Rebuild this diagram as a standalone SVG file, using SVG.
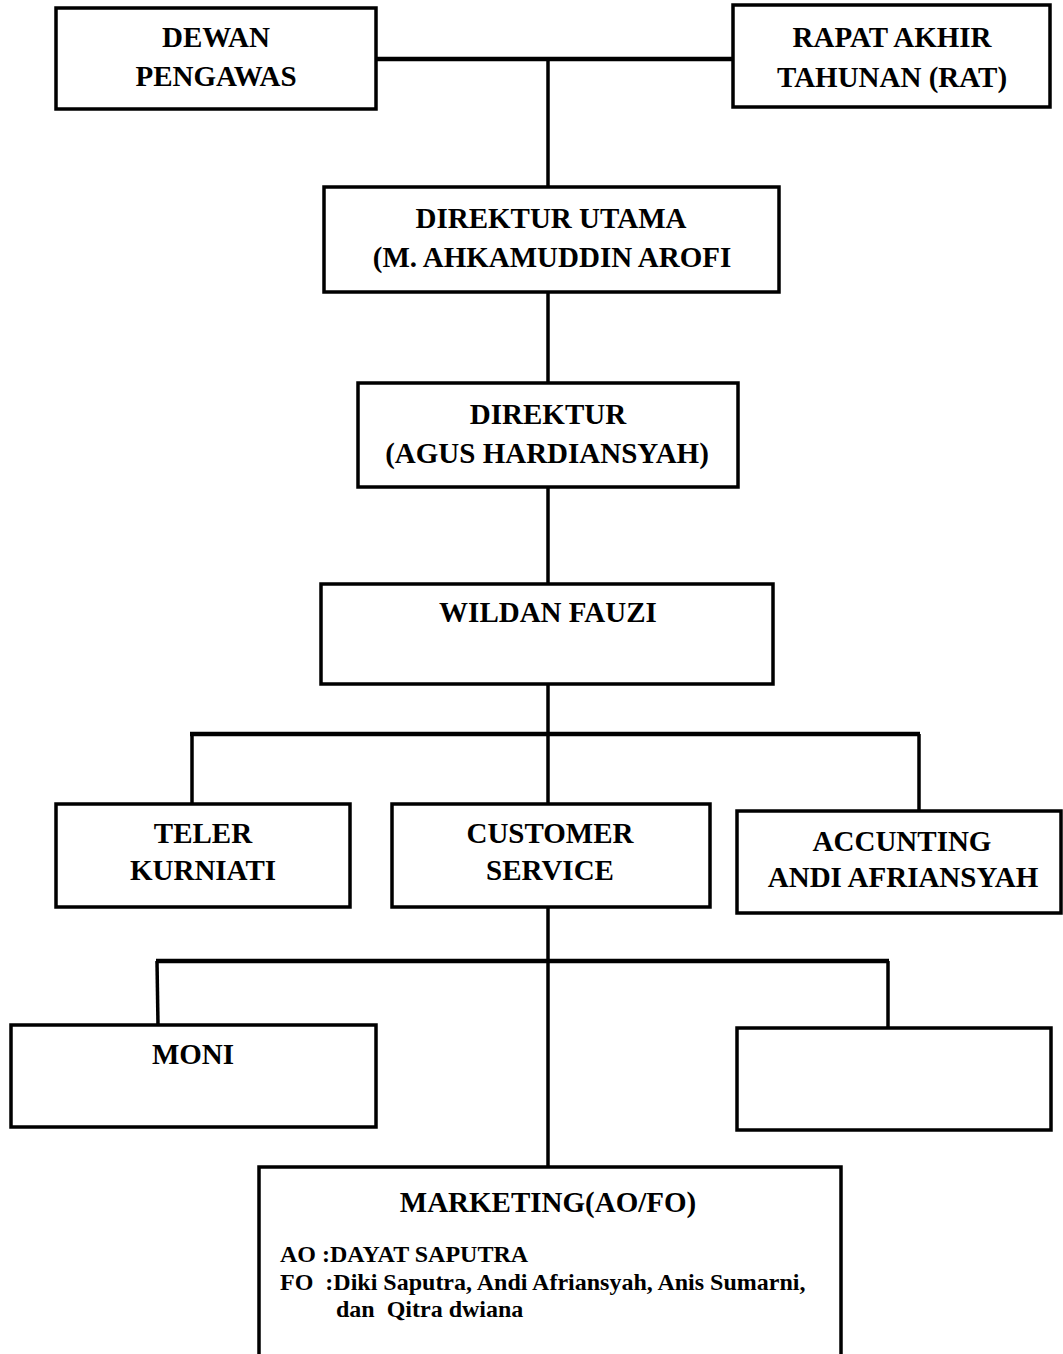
<svg xmlns="http://www.w3.org/2000/svg" width="1063" height="1354" viewBox="0 0 1063 1354">
<style>
.box{fill:#fff;stroke:#000;stroke-width:3.5}
.t{font-family:"Liberation Serif","Times New Roman",serif;font-weight:bold;font-size:29px;fill:#000;text-anchor:middle}
.s{font-family:"Liberation Serif","Times New Roman",serif;font-weight:bold;font-size:24px;fill:#000}
.c{stroke:#000;stroke-width:3.5;fill:none}
.c4{stroke:#000;stroke-width:4.5;fill:none}
</style>
<rect width="1063" height="1354" fill="#fff"/>
<g id="connectors">
<line class="c4" x1="376" y1="59" x2="733" y2="59"/>
<line class="c" x1="548" y1="59" x2="548" y2="187"/>
<line class="c" x1="548" y1="292" x2="548" y2="383"/>
<line class="c" x1="548" y1="487" x2="548" y2="584"/>
<line class="c" x1="548" y1="684" x2="548" y2="804"/>
<line class="c4" x1="190" y1="734" x2="920" y2="734"/>
<line class="c" x1="192" y1="734" x2="192" y2="804"/>
<line class="c" x1="919" y1="734" x2="919" y2="811"/>
<line class="c" x1="548" y1="907" x2="548" y2="1167"/>
<line class="c4" x1="156" y1="961" x2="889" y2="961"/>
<line class="c" x1="157" y1="961" x2="158" y2="1025"/>
<line class="c" x1="888" y1="961" x2="888" y2="1028"/>
</g>
<g id="dewan-pengawas">
<rect class="box" x="56" y="8" width="320" height="101"/>
<text class="t" x="216" y="47">DEWAN</text>
<text class="t" x="216" y="86">PENGAWAS</text>
</g>
<g id="rat">
<rect class="box" x="733" y="5" width="317" height="102"/>
<text class="t" x="892" y="47">RAPAT AKHIR</text>
<text class="t" x="892" y="87">TAHUNAN (RAT)</text>
</g>
<g id="direktur-utama">
<rect class="box" x="324" y="187" width="455" height="105"/>
<text class="t" x="551" y="228">DIREKTUR UTAMA</text>
<text class="t" x="552" y="267">(M. AHKAMUDDIN AROFI</text>
</g>
<g id="direktur">
<rect class="box" x="358" y="383" width="380" height="104"/>
<text class="t" x="548" y="424">DIREKTUR</text>
<text class="t" x="547" y="463">(AGUS HARDIANSYAH)</text>
</g>
<g id="wildan">
<rect class="box" x="321" y="584" width="452" height="100"/>
<text class="t" x="548" y="622">WILDAN FAUZI</text>
</g>
<g id="teler">
<rect class="box" x="56" y="804" width="294" height="103"/>
<text class="t" x="203" y="843">TELER</text>
<text class="t" x="203" y="880">KURNIATI</text>
</g>
<g id="customer-service">
<rect class="box" x="392" y="804" width="318" height="103"/>
<text class="t" x="550" y="843">CUSTOMER</text>
<text class="t" x="550" y="880">SERVICE</text>
</g>
<g id="accunting">
<rect class="box" x="737" y="811" width="324" height="102"/>
<text class="t" x="902" y="851">ACCUNTING</text>
<text class="t" x="903" y="887">ANDI AFRIANSYAH</text>
</g>
<g id="moni">
<rect class="box" x="11" y="1025" width="365" height="102"/>
<text class="t" x="193" y="1064">MONI</text>
</g>
<g id="empty-box">
<rect class="box" x="737" y="1028" width="314" height="102"/>
</g>
<g id="marketing">
<rect class="box" x="259" y="1167" width="582" height="210"/>
<text class="t" x="548" y="1212">MARKETING(AO/FO)</text>
<text class="s" x="280" y="1262">AO :DAYAT SAPUTRA</text>
<text class="s" x="280" y="1290" xml:space="preserve">FO  :Diki Saputra, Andi Afriansyah, Anis Sumarni,</text>
<text class="s" x="336" y="1317" xml:space="preserve">dan  Qitra dwiana</text>
</g>
</svg>
